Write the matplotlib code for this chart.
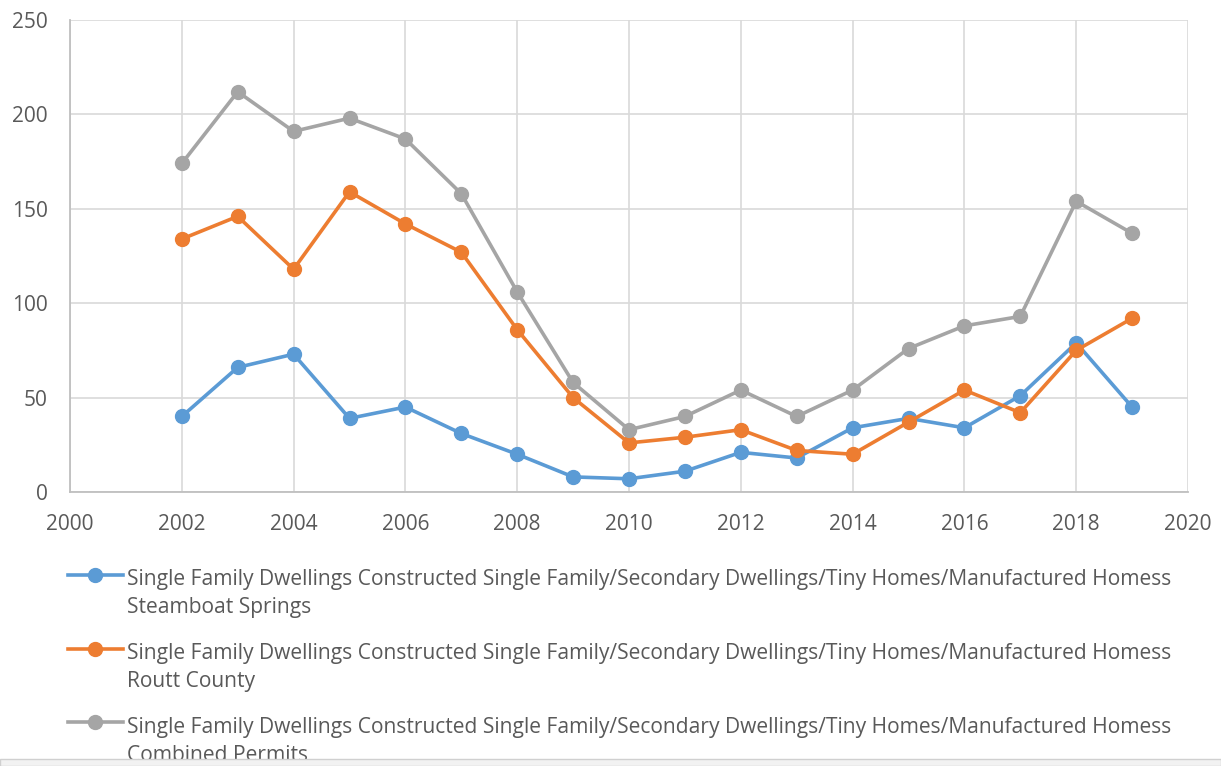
import matplotlib
matplotlib.use("Agg")
import matplotlib.pyplot as plt
from matplotlib.legend_handler import HandlerLine2D
from matplotlib.patches import Rectangle

years = list(range(2002, 2020))
steamboat = [40, 66, 73, 39, 45, 31, 20, 8, 7, 11, 21, 18, 34, 39, 34, 51, 79, 45]
routt = [134, 146, 118, 159, 142, 127, 86, 50, 26, 29, 33, 22, 20, 37, 54, 42, 75, 92]
combined = [174, 212, 191, 198, 187, 158, 106, 58, 33, 40, 54, 40, 54, 76, 88, 93, 154, 137]

prefix = ("Single Family Dwellings Constructed Single Family/Secondary "
          "Dwellings/Tiny Homes/Manufactured Homess")
labels = [prefix + "\nSteamboat Springs",
          prefix + "\nRoutt County",
          prefix + "\nCombined Permits"]
colors = ["#5B9BD5", "#ED7D31", "#A5A5A5"]

TEXT = "#595959"
plt.rcParams["font.family"] = ["Open Sans", "DejaVu Sans"]


class FirstLineHandler(HandlerLine2D):
    """Put the legend key next to the first line of a two-line label."""
    shift = 14.0

    def create_artists(self, legend, orig_handle, xdescent, ydescent,
                       width, height, fontsize, trans):
        return super().create_artists(legend, orig_handle, xdescent,
                                      ydescent - 2 * self.shift, width,
                                      height, fontsize, trans)


fig = plt.figure(figsize=(12.21, 7.66), dpi=100)
ax = fig.add_axes([70 / 1221, 1 - 492 / 766, 1118 / 1221, 472 / 766])

handles = []
for vals, lab, c in zip([steamboat, routt, combined], labels, colors):
    h, = ax.plot(years, vals, color=c, lw=2.6, marker="o", ms=10,
                 label=lab, zorder=3)
    handles.append(h)

ax.set_xlim(2000, 2020)
ax.set_ylim(0, 250)
ax.set_xticks(range(2000, 2021, 2))
ax.set_yticks(range(0, 251, 50))
ax.grid(True, color="#d9d9d9", lw=1.2)
ax.set_axisbelow(True)
for side in ["top", "right"]:
    ax.spines[side].set_visible(False)
for side in ["left", "bottom"]:
    ax.spines[side].set_color("#bfbfbf")
    ax.spines[side].set_linewidth(1.3)
ax.tick_params(length=0, labelsize=15, colors=TEXT)
ax.tick_params(axis="x", pad=16)
ax.tick_params(axis="y", pad=16)

leg = fig.legend(handles, labels, loc="upper left",
                 bbox_to_anchor=(68 / 1221, 1 - 569 / 766),
                 frameon=False, fontsize=15.15, handlelength=2.6,
                 handletextpad=0.2, labelspacing=1.19, borderpad=0,
                 borderaxespad=0,
                 handler_map={h: FirstLineHandler() for h in handles})
for t in leg.get_texts():
    t.set_color(TEXT)
    t.set_linespacing(1.43)

# bottom edge of the original screenshot
fig.patches.append(Rectangle((0, 0), 1, 7 / 766, transform=fig.transFigure,
                             facecolor="#f2f2f2", edgecolor="#d0d0d0",
                             lw=1, zorder=10))

fig.savefig("out.png", dpi=100)
